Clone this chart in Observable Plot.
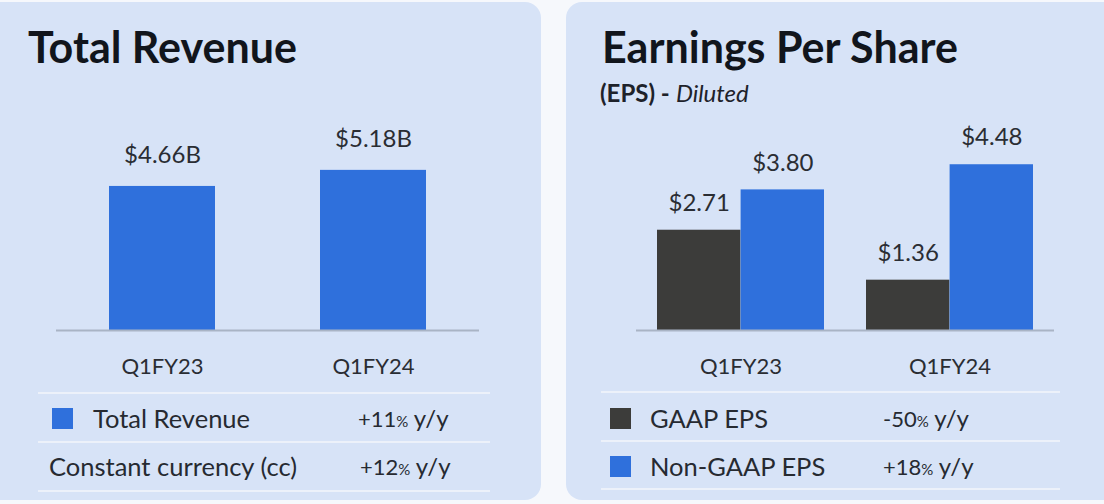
<!DOCTYPE html>
<html>
<head>
<meta charset="utf-8">
<script src="https://cdn.jsdelivr.net/npm/d3@7"></script>
<script src="https://cdn.jsdelivr.net/npm/@observablehq/plot@0.6"></script>
<style>
  html, body { margin: 0; padding: 0; background: #f6f8fc; }
  #root { position: relative; width: 1104px; height: 504px; overflow: hidden; font-family: Lato, "Open Sans", sans-serif; color: #252830; }
  .panel { position: absolute; background: #d7e3f7; border-radius: 16px; }
  .abs { position: absolute; white-space: nowrap; }
  .title { font-weight: 700; font-size: 43px; line-height: 1; color: #11151c; }
  .sub { font-size: 24px; line-height: 1; color: #1e222a; }
  .sep { position: absolute; height: 0; border-top: 2px solid #ecf1fa; }
  .row { position: absolute; height: 48px; display: flex; align-items: center; font-size: 25.5px; color: #262a31; }
  .sw { width: 21px; height: 21px; display: inline-block; }
  .pct { position: absolute; font-size: 24px; line-height: 48px; height: 48px; color: #262a31; }
  .pct .n { font-size: 22px; }
  .pct .p { font-size: 15px; }
  .plot { position: absolute; }
</style>
</head>
<body>
<div id="root">
  <div class="panel" style="left:-20px; top:2px; width:561px; height:498px;"></div>
  <div class="panel" style="left:566px; top:2px; width:560px; height:498px;"></div>

  <div class="abs title" style="left:28px; top:25px;">Total Revenue</div>
  <div class="abs title" style="left:602px; top:25px;">Earnings Per Share</div>
  <div class="abs sub" style="left:600px; top:81px;"><b>(EPS) -</b> <i>Diluted</i></div>

  <div id="leftPlot" class="plot" style="left:0; top:100px;"></div>
  <div id="rightPlot" class="plot" style="left:565px; top:100px;"></div>

  <div id="leftLegend"></div>
  <div id="rightLegend"></div>
</div>
<script>
// ---- data ----
const quarters = ["Q1FY23", "Q1FY24"];
const revenue = [4.66, 5.18];
const revenueLabels = ["$4.66B", "$5.18B"];
const gaapEps = [2.71, 1.36];
const nonGaapEps = [3.80, 4.48];
const epsLabelsGaap = ["$2.71", "$1.36"];
const epsLabelsNonGaap = ["$3.80", "$4.48"];
const seriesNames = ["GAAP EPS", "Non-GAAP EPS"];
const revenueRows = ["Total Revenue", "Constant currency (cc)"];
const revenueGrowth = ["+11", "+12"];
const epsGrowth = ["-50", "+18"];

const blue = "#2f70dc";
const dark = "#3c3c3a";
const textColor = "#2a2d33";

// ---- left chart ----
const revData = quarters.map((q, i) => ({quarter: q, value: revenue[i], label: revenueLabels[i]}));
const L = {width: 541, height: 285, ml: 56, mr: 62};
const left = Plot.plot({
  width: L.width, height: L.height,
  marginTop: 0, marginBottom: 55, marginLeft: L.ml, marginRight: L.mr,
  style: {background: "transparent", fontFamily: "Lato, sans-serif", fontSize: "22px", color: textColor, overflow: "visible"},
  x: {domain: quarters, paddingInner: 0.5, paddingOuter: 0.25, label: null, tickSize: 0, tickPadding: 28},
  y: {domain: [0, 7.44], axis: null},
  marks: [
    Plot.barY(revData, {x: "quarter", y: "value", fill: blue}),
    Plot.ruleY([0], {stroke: "#a9b4c5", strokeWidth: 2}),
    Plot.text(revData, {x: "quarter", y: "value", text: "label", dy: -31, fontSize: 24, fill: textColor})
  ]
});
document.getElementById("leftPlot").appendChild(left);

// ---- right chart ----
const R = {width: 539, height: 285, ml: 71, mr: 50};
const bw = d3.scaleBand().domain(quarters).range([R.ml, R.width - R.mr]).paddingInner(0.2).paddingOuter(0.1).bandwidth();
const gaapData = quarters.map((q, i) => ({quarter: q, value: gaapEps[i], label: epsLabelsGaap[i]}));
const nonData = quarters.map((q, i) => ({quarter: q, value: nonGaapEps[i], label: epsLabelsNonGaap[i]}));
const right = Plot.plot({
  width: R.width, height: R.height,
  marginTop: 0, marginBottom: 55, marginLeft: R.ml, marginRight: R.mr,
  style: {background: "transparent", fontFamily: "Lato, sans-serif", fontSize: "22px", color: textColor, overflow: "visible"},
  x: {domain: quarters, paddingInner: 0.2, paddingOuter: 0.1, label: null, tickSize: 0, tickPadding: 28},
  y: {domain: [0, 6.216], axis: null},
  marks: [
    Plot.barY(gaapData, {x: "quarter", y: "value", fill: dark, insetRight: bw / 2}),
    Plot.barY(nonData, {x: "quarter", y: "value", fill: blue, insetLeft: bw / 2}),
    Plot.ruleY([0], {stroke: "#a9b4c5", strokeWidth: 2}),
    Plot.text(gaapData, {x: "quarter", y: "value", text: "label", dx: -bw / 4, dy: -27, fontSize: 24, fill: textColor}),
    Plot.text(nonData, {x: "quarter", y: "value", text: "label", dx: bw / 4, dy: -27, fontSize: 24, fill: textColor})
  ]
});
document.getElementById("rightPlot").appendChild(right);

// ---- legend tables ----
function pctHtml(v) {
  return `<span class="n">${v}</span><span class="p">%</span> y/y`;
}
const ll = document.getElementById("leftLegend");
ll.innerHTML = `
  <div class="sep" style="left:38px; width:452px; top:392px;"></div>
  <div class="row" style="left:52px; top:394px;"><span class="sw" style="background:${blue}"></span><span style="margin-left:20px">${revenueRows[0]}</span></div>
  <div class="pct" style="left:358px; top:394px;">${pctHtml(revenueGrowth[0])}</div>
  <div class="sep" style="left:38px; width:452px; top:441px;"></div>
  <div class="row" style="left:49px; top:442px;">${revenueRows[1]}</div>
  <div class="pct" style="left:360px; top:442px;">${pctHtml(revenueGrowth[1])}</div>
  <div class="sep" style="left:38px; width:452px; top:490px;"></div>
`;
const rl = document.getElementById("rightLegend");
rl.innerHTML = `
  <div class="sep" style="left:601px; width:459px; top:391px;"></div>
  <div class="row" style="left:610px; top:394px;"><span class="sw" style="background:${dark}"></span><span style="margin-left:19px">${seriesNames[0]}</span></div>
  <div class="pct" style="left:883px; top:394px;">${pctHtml(epsGrowth[0])}</div>
  <div class="sep" style="left:601px; width:459px; top:440px;"></div>
  <div class="row" style="left:610px; top:442px;"><span class="sw" style="background:${blue}"></span><span style="margin-left:19px">${seriesNames[1]}</span></div>
  <div class="pct" style="left:883px; top:442px;">${pctHtml(epsGrowth[1])}</div>
  <div class="sep" style="left:601px; width:459px; top:488px;"></div>
`;
</script>
</body>
</html>
